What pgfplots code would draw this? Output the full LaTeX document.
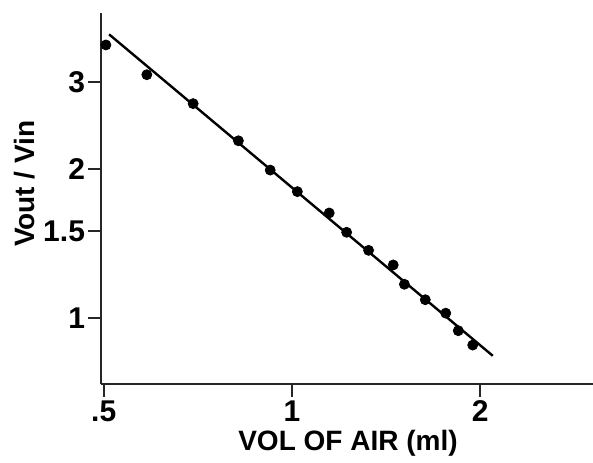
\documentclass[border=0pt]{standalone}
\usepackage{fontspec}
\setmainfont{Liberation Sans}
\usepackage{pgfplots}
\pgfplotsset{compat=1.18}

% measured points, Vout/Vin against air volume
\pgfplotstableread{
x y
0.504 3.56
0.586 3.10
0.695 2.71
0.821 2.28
0.923 1.99
1.020 1.80
1.147 1.63
1.223 1.49
1.326 1.37
1.452 1.28
1.513 1.17
1.634 1.089
1.762 1.023
1.845 0.943
1.946 0.882
}\airdata

\begin{document}
\begin{tikzpicture}
\begin{axis}[
  name=ax,
  scale only axis, width=246pt, height=185.5pt,
  xmode=log, ymode=log,
  xmin=0.495, xmax=3.03, ymin=0.736, ymax=4.13,
  axis x line*=bottom, axis y line*=left,
  axis line style={black!85, line width=1.4pt, -},
  tick style={black!85, line width=1.2pt},
  tick align=outside, major tick length=6.5pt,
  xminorticks=false, yminorticks=false,
  xtick={0.5,1,2}, xticklabels={.5,1,2},
  ytick={1,1.5,2,3}, yticklabels={1,1.5,2,3},
  /pgf/number format/assume math mode=true,
  ticklabel style={font=\bfseries\fontsize{15}{17}\selectfont},
  xticklabel style={yshift=1.5pt},
  yticklabel style={xshift=2pt},
  xlabel={VOL OF AIR (ml)},
  ylabel={Vout / Vin},
  label style={font=\bfseries\fontsize{14}{16}\selectfont},
  xlabel style={at={(axis description cs:0.502,-0.159)}, anchor=center},
  ylabel style={at={(axis description cs:-0.155,0.54)}, anchor=center},
  clip=false,
]
\addplot[only marks, mark=*, mark size=2.5pt, black] table {\airdata};
\addplot[black, line width=1.2pt] coordinates {(0.510,3.74) (2.095,0.839)};
\end{axis}
\pgfresetboundingbox
\path[use as bounding box] ([shift={(-50.5pt,-39.5pt)}]ax.south west) rectangle ([shift={(0pt,6.5pt)}]ax.north east);
\end{tikzpicture}
\end{document}
